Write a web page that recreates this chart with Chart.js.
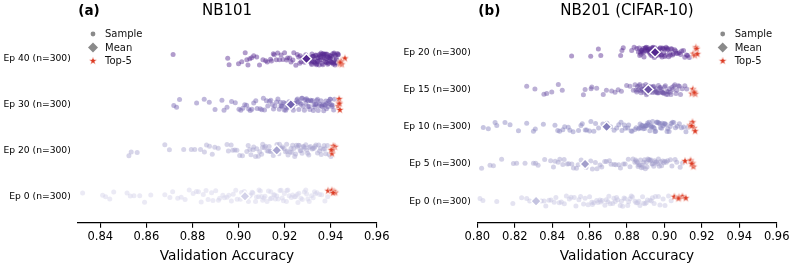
<!DOCTYPE html>
<html>
<head>
<meta charset="utf-8">
<script src="https://cdn.jsdelivr.net/npm/chart.js@4.4.1/dist/chart.umd.min.js"></script>
<style>
html,body{margin:0;padding:0;background:#fff;}
#wrap{position:relative;width:793px;height:268px;overflow:hidden;}
#c1{position:absolute;left:0;top:0;}
#c2{position:absolute;left:400px;top:0;}
</style>
</head>
<body>
<div id="wrap">
<canvas id="c1" width="400" height="268"></canvas>
<canvas id="c2" width="393" height="268"></canvas>
</div>
<script>
// ---------------- DATA ----------------
// NB101 panel (rows bottom -> top)
const nb101Rows = ['Ep 0 (n=300)', 'Ep 20 (n=300)', 'Ep 30 (n=300)', 'Ep 40 (n=300)'];
const nb101Ticks = [0.84, 0.86, 0.88, 0.90, 0.92, 0.94, 0.96];
const nb101Ep0 = [0.8323, 0.8410, 0.8423, 0.8441, 0.8458, 0.8516, 0.8530, 0.8546, 0.8571, 0.8592, 0.8619, 0.8680, 0.8702, 0.8714, 0.8736, 0.8751, 0.8768, 0.8786,
  0.8803, 0.8817, 0.8826, 0.8838, 0.8847, 0.8859, 0.8868, 0.8883, 0.8889, 0.8901, 0.8913, 0.8918, 0.8932, 0.8939, 0.8950, 0.8958, 0.8969, 0.8977, 0.8988, 0.8994,
  0.9008, 0.9013, 0.9025, 0.9030, 0.9043, 0.9047, 0.9059, 0.9062, 0.9074, 0.9078, 0.9089, 0.9095, 0.9100, 0.9110, 0.9115, 0.9124, 0.9130, 0.9138, 0.9143,
  0.9153, 0.9157, 0.9166, 0.9172, 0.9180, 0.9185, 0.9195, 0.9199, 0.9208, 0.9214, 0.9220, 0.9229, 0.9235, 0.9243, 0.9248, 0.9258, 0.9262, 0.9271, 0.9277,
  0.9286, 0.9292, 0.9301, 0.9307, 0.9317, 0.9324, 0.9334, 0.9341, 0.9352, 0.9361, 0.9375, 0.9387,
  0.9052, 0.9105, 0.9160, 0.9210, 0.9255, 0.9296, 0.9330, 0.9190, 0.9140, 0.9087];
const nb101Ep20 = [0.8524, 0.8534, 0.8560, 0.8680, 0.8700, 0.8762, 0.8795, 0.8810, 0.8835, 0.8852, 0.8861, 0.8874, 0.8886, 0.8897, 0.8912, 0.8950, 0.8956, 0.8968,
  0.8975, 0.8984, 0.8993, 0.9005, 0.9017, 0.9036, 0.9042, 0.9049, 0.9054, 0.9063, 0.9066, 0.9074, 0.9079, 0.9086, 0.9092, 0.9100, 0.9104, 0.9113, 0.9117,
  0.9124, 0.9130, 0.9138, 0.9141, 0.9151, 0.9154, 0.9162, 0.9167, 0.9175, 0.9178, 0.9187, 0.9191, 0.9198, 0.9204, 0.9211, 0.9215, 0.9224, 0.9228, 0.9235,
  0.9240, 0.9248, 0.9251, 0.9260, 0.9264, 0.9271, 0.9276, 0.9284, 0.9287, 0.9296, 0.9300, 0.9307, 0.9312, 0.9320, 0.9323, 0.9332, 0.9336, 0.9343, 0.9348,
  0.9356, 0.9359, 0.9368, 0.9372, 0.9379, 0.9386, 0.9393, 0.9401,
  0.9105, 0.9133, 0.9159, 0.9183, 0.9209, 0.9232, 0.9256, 0.9281, 0.9305, 0.9328, 0.9352, 0.9375, 0.9244, 0.9268, 0.9292];
const nb101Ep30 = [0.8719, 0.8731, 0.8744, 0.8818, 0.8851, 0.8873, 0.8898, 0.8928, 0.8937, 0.8950, 0.8970, 0.8986, 0.9002, 0.9010, 0.9019, 0.9027, 0.9035,
  0.9044, 0.9051, 0.9058, 0.9066, 0.9075, 0.9081, 0.9094, 0.9101, 0.9108, 0.9113, 0.9121, 0.9127, 0.9134, 0.9140, 0.9147, 0.9152, 0.9158, 0.9165, 0.9171,
  0.9177, 0.9182, 0.9187, 0.9190, 0.9196, 0.9199, 0.9205, 0.9209, 0.9214, 0.9217, 0.9223, 0.9226, 0.9232, 0.9235, 0.9241, 0.9244, 0.9250, 0.9253, 0.9259,
  0.9262, 0.9268, 0.9271, 0.9277, 0.9280, 0.9286, 0.9289, 0.9295, 0.9298, 0.9304, 0.9307, 0.9313, 0.9316, 0.9322, 0.9325, 0.9331, 0.9334, 0.9340, 0.9343,
  0.9349, 0.9352, 0.9358, 0.9361, 0.9367, 0.9370, 0.9376, 0.9379, 0.9385, 0.9388, 0.9394, 0.9397, 0.9403, 0.9408, 0.9413, 0.9417,
  0.9184, 0.9202, 0.9219, 0.9238, 0.9256, 0.9274, 0.9292, 0.9310, 0.9328, 0.9346, 0.9364, 0.9382, 0.9399, 0.9406, 0.9391, 0.9373, 0.9337, 0.9301];
const nb101Ep40 = [0.8716, 0.8953, 0.8959, 0.9000, 0.9014, 0.9029, 0.9036, 0.9041, 0.9049, 0.9057, 0.9066, 0.9079, 0.9091, 0.9106, 0.9118, 0.9125, 0.9139,
  0.9143, 0.9151, 0.9155, 0.9164, 0.9170, 0.9178, 0.9185, 0.9193, 0.9200, 0.9209, 0.9213, 0.9222, 0.9228, 0.9236, 0.9240, 0.9249, 0.9255, 0.9261, 0.9268,
  0.9272, 0.9280, 0.9287, 0.9292, 0.9298, 0.9305, 0.9309, 0.9316, 0.9319, 0.9321, 0.9324, 0.9327, 0.9331, 0.9333, 0.9336, 0.9338, 0.9342, 0.9345, 0.9347,
  0.9350, 0.9353, 0.9356, 0.9358, 0.9361, 0.9364, 0.9366, 0.9369, 0.9372, 0.9374, 0.9377, 0.9380, 0.9383, 0.9385, 0.9388, 0.9391, 0.9393, 0.9396, 0.9399,
  0.9402, 0.9404, 0.9407, 0.9410, 0.9413, 0.9416, 0.9419, 0.9422, 0.9425, 0.9428, 0.9431, 0.9434, 0.9320, 0.9335, 0.9352, 0.9368, 0.9381, 0.9397, 0.9411, 0.9426,
  0.9318, 0.9326, 0.9329, 0.9340, 0.9344, 0.9349, 0.9357, 0.9363, 0.9371, 0.9376, 0.9382, 0.9387, 0.9392, 0.9398, 0.9403, 0.9409, 0.9415, 0.9421, 0.9424,
  0.9430, 0.9266, 0.9283, 0.9301];
const nb101Means = [0.9028, 0.9166, 0.9227, 0.9295];
const nb101Top5Ep0 = [0.9389, 0.9413, 0.9405, 0.9420, 0.9411];
const nb101Top5Ep20 = [0.9419, 0.9412, 0.9409, 0.9406, 0.9403];
const nb101Top5Ep30 = [0.9436, 0.9437, 0.9433, 0.9440, 0.9438];
const nb101Top5Ep40 = [0.9440, 0.9462, 0.9445, 0.9448, 0.9442];

// NB201 (CIFAR-10) panel (rows bottom -> top)
const nb201Rows = ['Ep 0 (n=300)', 'Ep 5 (n=300)', 'Ep 10 (n=300)', 'Ep 15 (n=300)', 'Ep 20 (n=300)'];
const nb201Ticks = [0.80, 0.82, 0.84, 0.86, 0.88, 0.90, 0.92, 0.94, 0.96];
const nb201Ep0 = [0.8014, 0.8030, 0.8104, 0.8190, 0.8237, 0.8264, 0.8280, 0.8342, 0.8357, 0.8366, 0.8383, 0.8394, 0.8411, 0.8420, 0.8438, 0.8449, 0.8465,
  0.8476, 0.8492, 0.8501, 0.8518, 0.8527, 0.8543, 0.8552, 0.8568, 0.8576, 0.8592, 0.8600, 0.8615, 0.8623, 0.8638, 0.8645, 0.8660, 0.8667, 0.8682, 0.8689,
  0.8703, 0.8710, 0.8724, 0.8730, 0.8744, 0.8750, 0.8764, 0.8770, 0.8784, 0.8790, 0.8804, 0.8809, 0.8823, 0.8829, 0.8843, 0.8849, 0.8863, 0.8869, 0.8883,
  0.8889, 0.8903, 0.8909, 0.8923, 0.8930, 0.8945, 0.8952, 0.8968, 0.8976, 0.8993, 0.9003, 0.9022, 0.9036,
  0.8612, 0.8655, 0.8698, 0.8737, 0.8777, 0.8816, 0.8856, 0.8896, 0.8936];
const nb201Ep5 = [0.8023, 0.8068, 0.8086, 0.8130, 0.8193, 0.8210, 0.8255, 0.8300, 0.8312, 0.8325, 0.8360, 0.8392, 0.8407, 0.8416, 0.8432, 0.8441, 0.8457,
  0.8464, 0.8481, 0.8489, 0.8505, 0.8514, 0.8530, 0.8539, 0.8555, 0.8564, 0.8581, 0.8590, 0.8606, 0.8615, 0.8631, 0.8640, 0.8656, 0.8665, 0.8681, 0.8690,
  0.8706, 0.8715, 0.8731, 0.8740, 0.8756, 0.8765, 0.8781, 0.8790, 0.8807, 0.8816, 0.8832, 0.8842, 0.8850, 0.8855, 0.8863, 0.8868, 0.8877, 0.8881, 0.8890,
  0.8894, 0.8903, 0.8907, 0.8916, 0.8920, 0.8929, 0.8934, 0.8943, 0.8948, 0.8957, 0.8963, 0.8973, 0.8979, 0.8991, 0.8997, 0.9010, 0.9017, 0.9032, 0.9040,
  0.9057, 0.9066, 0.9084, 0.9097,
  0.8846, 0.8859, 0.8872, 0.8885, 0.8898, 0.8911, 0.8925, 0.8938, 0.8952, 0.8968, 0.8985, 0.9003];
const nb201Ep10 = [0.8032, 0.8059, 0.8095, 0.8104, 0.8148, 0.8175, 0.8220, 0.8264, 0.8300, 0.8310, 0.8353, 0.8415, 0.8430, 0.8440, 0.8457, 0.8467, 0.8486,
  0.8495, 0.8512, 0.8541, 0.8554, 0.8561, 0.8577, 0.8584, 0.8600, 0.8607, 0.8623, 0.8632, 0.8648, 0.8671, 0.8693, 0.8712, 0.8731, 0.8745, 0.8756, 0.8768,
  0.8773, 0.8786, 0.8791, 0.8804, 0.8809, 0.8822, 0.8827, 0.8842, 0.8849, 0.8862, 0.8866, 0.8875, 0.8878, 0.8887, 0.8890, 0.8899, 0.8901, 0.8910, 0.8913,
  0.8922, 0.8925, 0.8934, 0.8937, 0.8946, 0.8949, 0.8958, 0.8961, 0.8971, 0.8975, 0.8985, 0.8988, 0.8999, 0.9002, 0.9014, 0.9018, 0.9031, 0.9036, 0.9050,
  0.9059, 0.9069, 0.9080, 0.9091, 0.9103, 0.9115, 0.9126,
  0.8870, 0.8883, 0.8895, 0.8906, 0.8918, 0.8930, 0.8941, 0.8953, 0.8966, 0.8979, 0.8993, 0.9008, 0.9025, 0.9043];
const nb201Ep15 = [0.8264, 0.8308, 0.8356, 0.8371, 0.8398, 0.8433, 0.8454, 0.8567, 0.8576, 0.8608, 0.8612, 0.8638, 0.8673, 0.8690, 0.8718, 0.8736, 0.8753,
  0.8770, 0.8798, 0.8816, 0.8834, 0.8843, 0.8848, 0.8856, 0.8860, 0.8868, 0.8871, 0.8879, 0.8882, 0.8890, 0.8893, 0.8900, 0.8904, 0.8911, 0.8914, 0.8922,
  0.8925, 0.8932, 0.8936, 0.8943, 0.8946, 0.8954, 0.8957, 0.8964, 0.8968, 0.8975, 0.8979, 0.8986, 0.8990, 0.8997, 0.9001, 0.9009, 0.9013, 0.9021, 0.9026,
  0.9035, 0.9040, 0.9050, 0.9056, 0.9067, 0.9074, 0.9086, 0.9095, 0.9109, 0.9119,
  0.8852, 0.8864, 0.8875, 0.8886, 0.8897, 0.8908, 0.8918, 0.8929, 0.8939, 0.8950, 0.8961, 0.8971, 0.8982, 0.8993, 0.9005, 0.9017, 0.9031, 0.9045, 0.9062, 0.9080];
const nb201Ep20 = [0.8504, 0.8606, 0.8647, 0.8660, 0.8766, 0.8773, 0.8780, 0.8825, 0.8838, 0.8852, 0.8861, 0.8865, 0.8871, 0.8874, 0.8880, 0.8882, 0.8888,
  0.8891, 0.8897, 0.8899, 0.8906, 0.8908, 0.8914, 0.8917, 0.8923, 0.8925, 0.8932, 0.8934, 0.8940, 0.8943, 0.8949, 0.8951, 0.8958, 0.8960, 0.8967, 0.8969,
  0.8975, 0.8978, 0.8984, 0.8987, 0.8993, 0.8996, 0.9002, 0.9006, 0.9012, 0.9016, 0.9023, 0.9027, 0.9035, 0.9040, 0.9048, 0.9055, 0.9064, 0.9071, 0.9079,
  0.9087, 0.9092, 0.9102, 0.9109, 0.9118, 0.9124, 0.9133,
  0.8868, 0.8877, 0.8886, 0.8894, 0.8903, 0.8911, 0.8920, 0.8929, 0.8937, 0.8946, 0.8955, 0.8963, 0.8972, 0.8981, 0.8990, 0.8999, 0.9009, 0.9019, 0.9031,
  0.9044, 0.9060];
const nb201Means = [0.8314, 0.8576, 0.8691, 0.8914, 0.8950];
const nb201Top5Ep0 = [0.9053, 0.9078, 0.9096, 0.9114, 0.9075];
const nb201Top5Ep5 = [0.9110, 0.9140, 0.9150, 0.9155, 0.9146];
const nb201Top5Ep10 = [0.9137, 0.9150, 0.9158, 0.9164, 0.9145];
const nb201Top5Ep15 = [0.9146, 0.9152, 0.9158, 0.9165, 0.9160];
const nb201Top5Ep20 = [0.9155, 0.9162, 0.9168, 0.9172, 0.9176];

// ---------------- STYLE ----------------
const FONT = '"DejaVu Sans", "Liberation Sans", sans-serif';
const STAR_RED = '#dc3a22';

function hexA(hex, a) {
  const n = parseInt(hex.slice(1), 16);
  return `rgba(${(n >> 16) & 255},${(n >> 8) & 255},${n & 255},${a})`;
}
// deterministic strip-plot jitter (vertical layout offset only, in [-1, 1])
function jitter(i, seed) {
  const s = Math.sin((i + 1) * 12.9898 + seed * 78.233) * 43758.5453;
  const t = s - Math.floor(s);
  return t * 2 - 1;
}
function makeStar(size) {
  const c = document.createElement('canvas');
  c.width = size; c.height = size;
  const g = c.getContext('2d');
  const cx = size / 2, cy = size / 2, R = size / 2 - 0.8, r = R * 0.42;
  g.beginPath();
  for (let k = 0; k < 10; k++) {
    const ang = -Math.PI / 2 + k * Math.PI / 5;
    const rr = k % 2 === 0 ? R : r;
    const x = cx + rr * Math.cos(ang), y = cy + rr * Math.sin(ang);
    k === 0 ? g.moveTo(x, y) : g.lineTo(x, y);
  }
  g.closePath();
  g.fillStyle = STAR_RED;
  g.fill();
  g.lineWidth = 0.6;
  g.strokeStyle = 'rgba(255,255,255,0.9)';
  g.stroke();
  return c;
}
const starImg = makeStar(10);

const decorPlugin = {
  id: 'decor',
  afterDraw(chart, args, o) {
    const ctx = chart.ctx, ca = chart.chartArea;
    ctx.save();
    ctx.fillStyle = '#000';
    ctx.textBaseline = 'alphabetic';
    ctx.textAlign = 'left';
    ctx.font = 'bold 13.5px ' + FONT;
    ctx.fillText(o.tag, ca.left + 1, 14.5);
    ctx.textAlign = 'center';
    ctx.font = '15px ' + FONT;
    ctx.fillText(o.title, (ca.left + ca.right) / 2, 14.5);
    // legend
    const lx = o.legendX;
    const ys = [34, 47.5, 61];
    ctx.fillStyle = '#8a8a8a';
    ctx.beginPath(); ctx.arc(lx, ys[0], 2.4, 0, Math.PI * 2); ctx.fill();
    ctx.beginPath();
    ctx.moveTo(lx, ys[1] - 5); ctx.lineTo(lx + 5, ys[1]); ctx.lineTo(lx, ys[1] + 5); ctx.lineTo(lx - 5, ys[1]);
    ctx.closePath(); ctx.fill();
    ctx.drawImage(starImg, lx - 5, ys[2] - 5, 10, 10);
    ctx.fillStyle = '#111';
    ctx.textAlign = 'left';
    ctx.textBaseline = 'middle';
    ctx.font = '10px ' + FONT;
    ['Sample', 'Mean', 'Top-5'].forEach((t, k) => ctx.fillText(t, lx + 12, ys[k] + 0.5));
    ctx.restore();
  }
};

function buildPanel(canvasId, cfg) {
  const datasets = [];
  cfg.samples.forEach((vals, r) => {
    datasets.push({
      data: vals.map((v, i) => ({ x: v, y: r + 0.14 * jitter(i, r + 1) })),
      showLine: false,
      pointRadius: 2.5,
      borderWidth: 0,
      pointBorderWidth: 0,
      borderColor: 'rgba(0,0,0,0)',
      pointBorderColor: 'rgba(0,0,0,0)',
      backgroundColor: hexA(cfg.colors[r], 0.46),
      pointBackgroundColor: hexA(cfg.colors[r], 0.46),
      order: 10
    });
    datasets.push({
      data: [{ x: cfg.means[r], y: r }],
      showLine: false,
      pointStyle: 'rectRot',
      pointRadius: 5,
      backgroundColor: cfg.colors[r],
      pointBackgroundColor: cfg.colors[r],
      borderColor: '#ffffff',
      pointBorderColor: '#ffffff',
      pointBorderWidth: 1.4,
      order: 2
    });
    datasets.push({
      data: cfg.top5[r].map((v, i) => ({ x: v, y: r + 0.13 * jitter(i + 40, r + 11) })),
      showLine: false,
      pointStyle: starImg,
      pointRadius: 5,
      order: 1
    });
  });
  return new Chart(document.getElementById(canvasId), {
    type: 'scatter',
    data: { datasets },
    options: {
      responsive: false,
      animation: false,
      events: [],
      layout: { padding: { top: 31, right: cfg.padRight, left: 0, bottom: 0 } },
      plugins: {
        legend: { display: false },
        tooltip: { enabled: false },
        decor: { tag: cfg.tag, title: cfg.title, legendX: cfg.legendX }
      },
      scales: {
        x: {
          type: 'linear',
          min: cfg.xmin, max: cfg.xmax,
          afterBuildTicks: s => { s.ticks = cfg.ticks.map(v => ({ value: v })); },
          afterFit: s => { s.height = 45.3; },
          ticks: { callback: v => v.toFixed(2), color: '#000', font: { family: FONT, size: 11.5 }, padding: 2, maxRotation: 0, autoSkip: false },
          grid: { display: true, drawOnChartArea: false, drawTicks: true, tickLength: 5, color: '#000', lineWidth: 1.1 },
          border: { display: true, color: '#000', width: 1.3 },
          title: { display: true, text: 'Validation Accuracy', color: '#000', font: { family: FONT, size: 13.7 }, padding: { top: 0, bottom: 3 } }
        },
        y: {
          type: 'linear',
          min: -0.58, max: cfg.ymax,
          afterBuildTicks: s => { s.ticks = cfg.rows.map((_, i) => ({ value: i })); },
          afterFit: s => { s.width = 77.3; },
          ticks: { callback: v => cfg.rows[v], color: '#000', font: { family: FONT, size: 9.2 }, padding: 6.5, autoSkip: false },
          grid: { display: false, drawTicks: false },
          border: { display: false }
        }
      }
    },
    plugins: [decorPlugin]
  });
}

buildPanel('c1', {
  tag: '(a)', title: 'NB101', legendX: 93,
  rows: nb101Rows, ticks: nb101Ticks, xmin: 0.83, xmax: 0.96, ymax: 3.606, padRight: 23.3,
  samples: [nb101Ep0, nb101Ep20, nb101Ep30, nb101Ep40],
  means: nb101Means,
  top5: [nb101Top5Ep0, nb101Top5Ep20, nb101Top5Ep30, nb101Top5Ep40],
  colors: ['#d3d2e9', '#a7a3d0', '#7363b0', '#54278f']
});
buildPanel('c2', {
  tag: '(b)', title: 'NB201 (CIFAR-10)', legendX: 322.7,
  rows: nb201Rows, ticks: nb201Ticks, xmin: 0.80, xmax: 0.96, ymax: 4.573, padRight: 16.3,
  samples: [nb201Ep0, nb201Ep5, nb201Ep10, nb201Ep15, nb201Ep20],
  means: nb201Means,
  top5: [nb201Top5Ep0, nb201Top5Ep5, nb201Top5Ep10, nb201Top5Ep15, nb201Top5Ep20],
  colors: ['#c4c3e0', '#a29ecb', '#8580bd', '#6a51a3', '#54278f']
});
</script>
</body>
</html>
